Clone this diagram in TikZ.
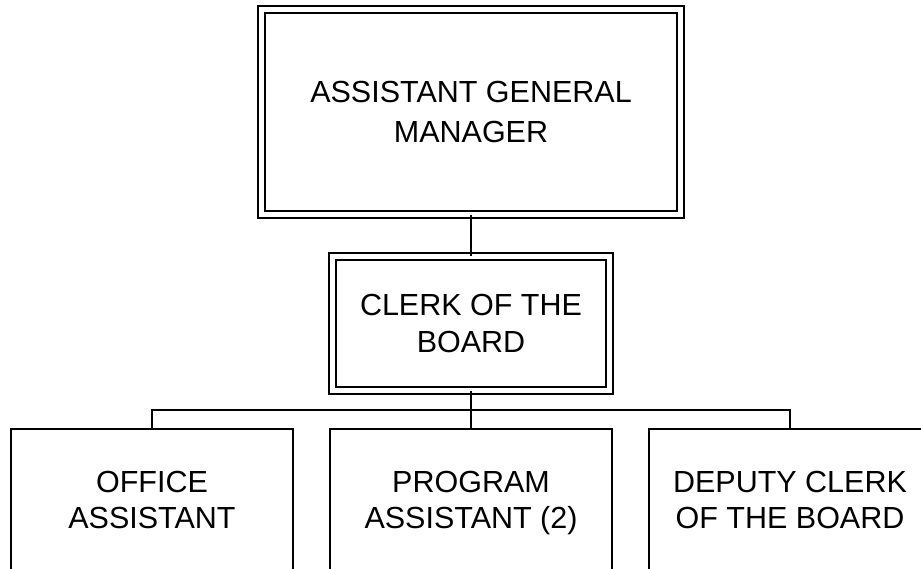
\documentclass[tikz,border=0pt]{standalone}
\usepackage{fontspec}
\setmainfont{Liberation Sans}
\usetikzlibrary{calc}
\begin{document}
\begin{tikzpicture}[x=1pt,y=-1pt,
  line width=2pt,
  chart/.style={draw, rectangle, inner sep=0pt, align=center,
    font=\fontsize{30.5}{36.7}\selectfont},
  doublebox/.style={chart, double, double distance=5pt},
  leafbox/.style={chart, minimum width=282pt, minimum height=142pt}]
  \clip (0,0) rectangle (921,569);
  \fill[white] (0,0) rectangle (921,569);

  % head of the unit
  \node[doublebox, minimum width=419pt, minimum height=205pt,
    font=\fontsize{30.5}{40}\selectfont] (agm) at (471,112)
    {ASSISTANT GENERAL\\MANAGER};
  % clerk
  \node[doublebox, minimum width=277pt, minimum height=133.5pt] (clerk) at (471,323.5)
    {CLERK OF THE\\BOARD};
  % staff
  \node[leafbox] (oa) at (152,500) {OFFICE\\ASSISTANT};
  \node[leafbox] (pa) at (471,500) {PROGRAM\\ASSISTANT \smash{(2)}};
  \node[leafbox] (dc) at (790,500) {DEPUTY CLERK\\OF THE BOARD};

  % reporting lines
  \draw (agm.south) -- (clerk.north);
  \draw (clerk.south) -- (pa.north);
  \coordinate (bar) at ($(clerk.south)!0.5!(pa.north)$);
  \draw (oa.north) |- (bar) -| (dc.north);
\end{tikzpicture}
\end{document}
